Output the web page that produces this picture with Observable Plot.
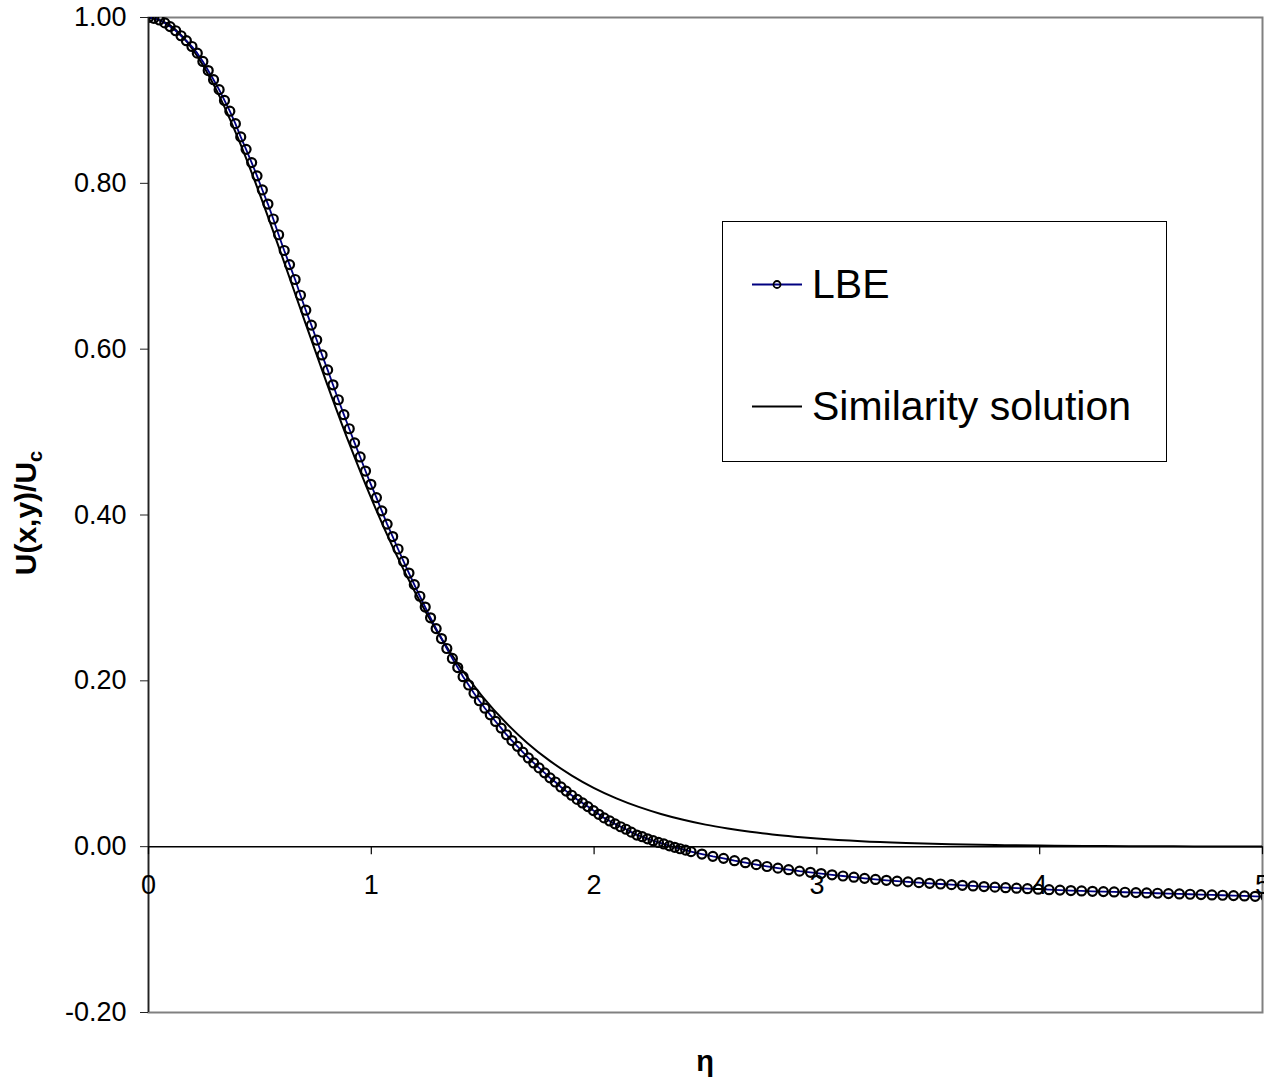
<!DOCTYPE html>
<html><head><meta charset="utf-8">
<script src="https://cdn.jsdelivr.net/npm/d3@7"></script>
<script src="https://cdn.jsdelivr.net/npm/@observablehq/plot@0.6"></script>
<style>body{margin:0;background:#fff;} #chart{position:relative;width:1264px;height:1089px;}</style>
</head><body><div id="chart"></div>
<script>
// LBE: fine grid part
const lbeEtaFine = [
0.000,0.024,0.049,0.073,0.097,0.122,0.146,0.170,0.195,0.219,
0.244,0.268,0.292,0.317,0.341,0.365,0.390,0.414,0.438,0.463,
0.487,0.511,0.536,0.560,0.584,0.609,0.633,0.658,0.682,0.706,
0.731,0.755,0.779,0.804,0.828,0.852,0.877,0.901,0.925,0.950,
0.974,0.998,1.023,1.047,1.071,1.096,1.120,1.145,1.169,1.193,
1.218,1.242,1.266,1.291,1.315,1.339,1.364,1.388,1.412,1.437,
1.461,1.485,1.510,1.534,1.558,1.583,1.607,1.631,1.656,1.680,
1.705,1.729,1.753,1.778,1.802,1.826,1.851,1.875,1.899,1.924,
1.948,1.972,1.997,2.021,2.045,2.070,2.094,2.119,2.143,2.167,
2.192,2.216,2.240,2.265,2.289,2.313,2.338,2.362,2.386,2.411,
2.435];
const lbeUFine = [
1.000,0.999,0.997,0.9935,0.989,0.984,0.978,0.972,0.965,0.957,
0.947,0.936,0.925,0.913,0.900,0.887,0.872,0.856,0.841,0.825,
0.809,0.792,0.775,0.757,0.738,0.719,0.702,0.684,0.665,0.647,
0.629,0.611,0.593,0.575,0.557,0.539,0.521,0.504,0.487,0.470,
0.453,0.437,0.421,0.405,0.389,0.374,0.359,0.344,0.330,0.316,
0.302,0.289,0.276,0.263,0.251,0.239,0.227,0.216,0.205,0.195,
0.185,0.176,0.167,0.159,0.151,0.143,0.135,0.128,0.121,0.114,
0.107,0.101,0.095,0.089,0.083,0.078,0.072,0.067,0.062,0.057,
0.0527,0.0483,0.0435,0.039,0.0347,0.031,0.0275,0.024,0.021,0.0175,
0.014,0.012,0.0095,0.0072,0.0051,0.0033,0.001,-0.0008,-0.0025,-0.0042,
-0.006];
// LBE: coarse grid part
const lbeEtaCoarse = [
2.484,2.533,2.581,2.630,2.679,2.728,2.776,2.825,2.873,2.922,
2.971,3.019,3.068,3.117,3.166,3.214,3.263,3.312,3.360,3.409,
3.458,3.506,3.555,3.604,3.653,3.701,3.750,3.799,3.847,3.896,
3.945,3.993,4.042,4.091,4.140,4.188,4.237,4.286,4.334,4.383,
4.432,4.480,4.529,4.578,4.627,4.675,4.724,4.773,4.821,4.870,
4.919,4.967,5.016];
const lbeUCoarse = [
-0.0089,-0.0117,-0.0141,-0.0169,-0.0193,-0.0217,-0.0239,-0.0259,-0.0278,-0.0295,
-0.0309,-0.0324,-0.0339,-0.0354,-0.0368,-0.0382,-0.0395,-0.0406,-0.0416,-0.0425,
-0.0434,-0.0442,-0.0450,-0.0458,-0.0466,-0.0474,-0.0481,-0.0488,-0.0495,-0.0501,
-0.0507,-0.0513,-0.0519,-0.0524,-0.0529,-0.0534,-0.0538,-0.0542,-0.0546,-0.0550,
-0.0554,-0.0558,-0.0562,-0.0566,-0.0570,-0.0574,-0.0578,-0.0582,-0.0586,-0.0590,
-0.0594,-0.0599,-0.0603];
// Similarity solution
const simEta = [0.0,0.1,0.2,0.3,0.4,0.5,0.6,0.7,0.8,0.9,1.0,1.1,1.2,1.3,1.4,1.5,1.6,1.7,1.8,1.9,
2.0,2.1,2.2,2.3,2.4,2.5,2.6,2.7,2.8,2.9,3.0,3.2,3.4,3.6,3.8,4.0,4.2,4.4,4.6,4.8,5.0];
const simU = [1.0000,0.9901,0.9610,0.9151,0.8556,0.7864,0.7116,0.6347,0.5591,0.4869,
0.4200,0.3592,0.3050,0.2574,0.2161,0.1807,0.1506,0.1251,0.1037,0.0858,
0.0707,0.0583,0.0480,0.0395,0.0325,0.0266,0.0219,0.0179,0.0147,0.0121,
0.0099,0.0066,0.0045,0.0030,0.0020,0.0013,0.0009,0.0006,0.0004,0.0003,0.0002];

const yTicks = [-0.2, 0, 0.2, 0.4, 0.6, 0.8, 1.0];
const xTicks = [0, 1, 2, 3, 4, 5];
const seriesNames = ["LBE", "Similarity solution"];
const xTitle = "η";
const yTitleMain = "U(x,y)/U";
const yTitleSub = "c";

const lbeEta = lbeEtaFine.concat(lbeEtaCoarse);
const lbeU = lbeUFine.concat(lbeUCoarse);
const lbe = lbeEta.map((x, i) => ({eta: x, u: lbeU[i]})).filter(d => d.u !== undefined);
const sim = simEta.map((x, i) => ({eta: x, u: simU[i]}));

const chart = Plot.plot({
  width: 1264, height: 1089,
  marginLeft: 148, marginRight: 2, marginTop: 17, marginBottom: 77,
  style: {fontFamily: "'Liberation Sans', Arial, sans-serif", fontSize: "27px", color: "#000", background: "#fff", overflow: "hidden"},
  x: {domain: [0, 5], axis: null},
  y: {domain: [-0.2, 1.0], axis: null},
  marks: [
    Plot.frame({stroke: "#808080", strokeWidth: 2}),
    Plot.line(sim, {x: "eta", y: "u", stroke: "#000", strokeWidth: 2, curve: "monotone-x", clip: "frame"}),
    Plot.line(lbe, {x: "eta", y: "u", stroke: "#000080", strokeWidth: 1.8, clip: "frame"}),
    Plot.dot(lbe, {x: "eta", y: "u", r: 4.5, stroke: "#000", strokeWidth: 2.2, fill: "none", clip: "frame"}),
    Plot.ruleY([0], {stroke: "#000", strokeWidth: 1.5}),
    Plot.ruleX([0], {stroke: "#222", strokeWidth: 1.5}),
    Plot.axisY(yTicks, {tickSize: 8, tickPadding: 14, tickFormat: d => d.toFixed(2), label: null, stroke: "#222"}),
    Plot.ruleX(xTicks, {x: d => d, y1: 0, y2: 0, insetBottom: -8, stroke: "#000", strokeWidth: 1.2}),
    Plot.text(xTicks, {x: d => d, y: 0, dy: 39, text: d => String(d), fontSize: 27})
  ]
});
document.getElementById("chart").appendChild(chart);

const svg = d3.select(chart);
// Y title
const yt = svg.append("text")
  .attr("transform", "translate(36,513) rotate(-90)")
  .attr("text-anchor", "middle")
  .attr("font-weight", "bold")
  .attr("font-size", 30)
  .attr("fill", "#000");
yt.append("tspan").text(yTitleMain);
yt.append("tspan").attr("font-size", 20).attr("dy", 6).text(yTitleSub);
// X title
svg.append("text").attr("x", 705).attr("y", 1071).attr("text-anchor", "middle")
  .attr("font-size", 29).attr("font-weight", "bold").attr("fill", "#000").text(xTitle);
// Legend
const lg = svg.append("g").attr("text-anchor", "start");
lg.append("rect").attr("x", 722.5).attr("y", 221.5).attr("width", 444).attr("height", 240)
  .attr("fill", "#fff").attr("stroke", "#000").attr("stroke-width", 1);
lg.append("line").attr("x1", 752).attr("x2", 802).attr("y1", 284.5).attr("y2", 284.5)
  .attr("stroke", "#000080").attr("stroke-width", 2);
lg.append("circle").attr("cx", 777).attr("cy", 284.5).attr("r", 3.5)
  .attr("fill", "none").attr("stroke", "#000").attr("stroke-width", 1.8);
lg.append("text").attr("x", 812).attr("y", 298).attr("text-anchor", "start")
  .attr("font-size", 41).attr("fill", "#000").text(seriesNames[0]);
lg.append("line").attr("x1", 752).attr("x2", 802).attr("y1", 406.5).attr("y2", 406.5)
  .attr("stroke", "#000").attr("stroke-width", 2);
lg.append("text").attr("x", 812).attr("y", 420).attr("text-anchor", "start")
  .attr("font-size", 41).attr("fill", "#000").text(seriesNames[1]);
</script>
</body></html>
